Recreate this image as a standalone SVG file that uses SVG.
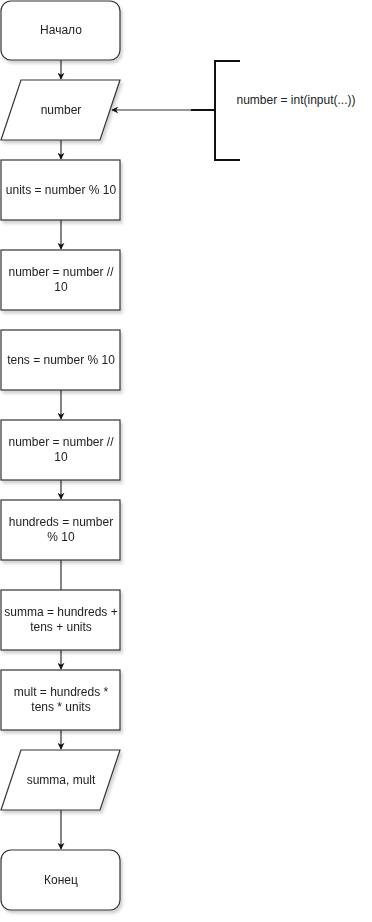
<svg xmlns="http://www.w3.org/2000/svg" width="372" height="922" viewBox="0 0 372 922">
  <style>
    .shape { fill: #ffffff; stroke: #333333; stroke-width: 1.2; }
    .label { font-family: "Liberation Sans", Arial, sans-serif; font-size: 12px; fill: #222222; text-anchor: middle; }
    .edge { fill: none; stroke: #333333; stroke-width: 1.2; }
    .bracket { fill: none; stroke: #111111; stroke-width: 2; }
  </style>
  <defs>
    <marker id="arrow" viewBox="0 0 10 10" refX="9" refY="5" markerWidth="7" markerHeight="7" markerUnits="userSpaceOnUse" orient="auto">
      <path d="M0,0 L10,5 L0,10 L3,5 Z" fill="#111111"/>
    </marker>
    <filter id="shadow" x="-10%" y="-10%" width="130%" height="130%">
      <feDropShadow dx="2" dy="3" stdDeviation="1.5" flood-color="#000000" flood-opacity="0.18"/>
    </filter>
  </defs>

  <!-- connectors -->
  <g id="connectors">
    <path class="edge" d="M61,60 V79" marker-end="url(#arrow)"/>
    <path class="edge" d="M61,140 V159" marker-end="url(#arrow)"/>
    <path class="edge" d="M61,220 V249" marker-end="url(#arrow)"/>
    <path class="edge" d="M61,390 V419" marker-end="url(#arrow)"/>
    <path class="edge" d="M61,480 V499" marker-end="url(#arrow)"/>
    <path class="edge" d="M61,560 V590"/>
    <path class="edge" d="M61,650 V669" marker-end="url(#arrow)"/>
    <path class="edge" d="M61,730 V749" marker-end="url(#arrow)"/>
    <path class="edge" d="M61,810 V849" marker-end="url(#arrow)"/>
    <path class="edge" d="M191,110 H112" marker-end="url(#arrow)"/>
  </g>

  <g id="start" filter="url(#shadow)">
    <rect class="shape" x="1" y="1" width="119" height="59" rx="10"/>
    <text class="label" x="61" y="34">Начало</text>
  </g>

  <g id="input-number" filter="url(#shadow)">
    <polygon class="shape" points="21,80 120,80 100,140 1,140"/>
    <text class="label" x="61" y="114">number</text>
  </g>

  <g id="annotation">
    <path class="bracket" d="M240,61 H215 V160 H240"/>
    <path class="bracket" d="M191,110 H215"/>
    <text class="label" x="296" y="104">number = int(input(...))</text>
  </g>

  <g id="units" filter="url(#shadow)">
    <rect class="shape" x="1" y="160" width="119" height="60"/>
    <text class="label" x="61" y="194">units = number % 10</text>
  </g>

  <g id="div1" filter="url(#shadow)">
    <rect class="shape" x="1" y="250" width="119" height="60"/>
    <text class="label" x="61" y="276">number = number //</text>
    <text class="label" x="61" y="291">10</text>
  </g>

  <g id="tens" filter="url(#shadow)">
    <rect class="shape" x="1" y="330" width="119" height="60"/>
    <text class="label" x="61" y="364">tens = number % 10</text>
  </g>

  <g id="div2" filter="url(#shadow)">
    <rect class="shape" x="1" y="420" width="119" height="60"/>
    <text class="label" x="61" y="446">number = number //</text>
    <text class="label" x="61" y="461">10</text>
  </g>

  <g id="hundreds" filter="url(#shadow)">
    <rect class="shape" x="1" y="500" width="119" height="60"/>
    <text class="label" x="61" y="526">hundreds = number</text>
    <text class="label" x="61" y="541">% 10</text>
  </g>

  <g id="summa" filter="url(#shadow)">
    <rect class="shape" x="1" y="590" width="119" height="60"/>
    <text class="label" x="61" y="616">summa = hundreds +</text>
    <text class="label" x="61" y="631">tens + units</text>
  </g>

  <g id="mult" filter="url(#shadow)">
    <rect class="shape" x="1" y="670" width="119" height="60"/>
    <text class="label" x="61" y="696">mult = hundreds *</text>
    <text class="label" x="61" y="711">tens * units</text>
  </g>

  <g id="output" filter="url(#shadow)">
    <polygon class="shape" points="21,750 120,750 100,810 1,810"/>
    <text class="label" x="61" y="784">summa, mult</text>
  </g>

  <g id="end" filter="url(#shadow)">
    <rect class="shape" x="1" y="850" width="119" height="60" rx="10"/>
    <text class="label" x="61" y="884">Конец</text>
  </g>
</svg>
